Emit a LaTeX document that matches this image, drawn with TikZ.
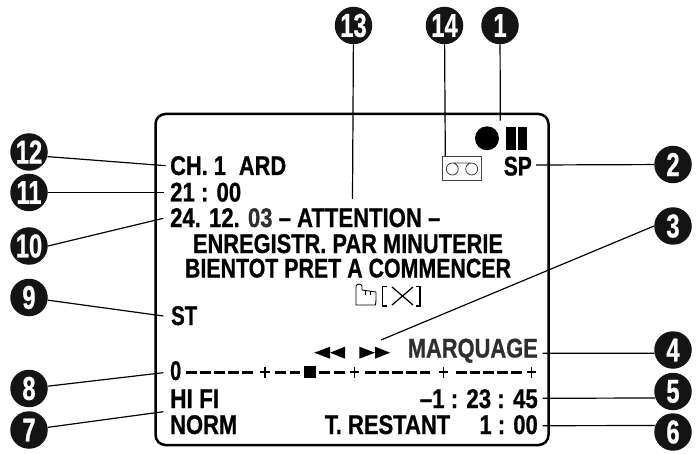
\documentclass[tikz,border=0pt]{standalone}
\usepackage{fontspec}
\setmainfont{Liberation Sans}[BoldFeatures={FakeBold=0.8}]
\newcommand\fitw[2]{\resizebox{#1pt}{\height}{#2}}
\newcommand\nm[1]{\scalebox{.72}[1]{#1}}
\definecolor{soft}{gray}{0.18}
\tikzset{
 x=1pt,y=-1pt,
 num/.style={circle,fill=black!92,text=white,minimum size=37.5pt,inner sep=0pt,font=\fontsize{33}{33}\bfseries\selectfont},
 lbl/.style={inner sep=0pt,font=\fontsize{27}{27}\bfseries\selectfont,anchor=base west},
 lbr/.style={lbl,anchor=base east},
 lbc/.style={lbl,anchor=base},
 ln/.style={line width=1.2pt},
 dashbar/.style={line width=3pt},
 plusmark/.style={line width=1.2pt},
}
\begin{document}
\begin{tikzpicture}
\useasboundingbox (0,0) rectangle (698,454);
\draw[line width=2.5pt,rounded corners=10pt] (155.5,114) rectangle (548.5,445);
% numbered
\node[num] (n1) at (500,25.5) {\nm{1}};
\node[num] (n2) at (673,164.5) {\nm{2}};
\node[num] (n3) at (673,226) {\nm{3}};
\node[num] (n4) at (673,350) {\nm{4}};
\node[num] (n5) at (673,391.5) {\nm{5}};
\node[num] (n6) at (673,432) {\nm{6}};
\node[num] (n7) at (29,430) {\nm{7}};
\node[num] (n8) at (29,388.5) {\nm{8}};
\node[num] (n9) at (29,297.5) {\nm{9}};
\node[num] (n10) at (29,246) {\nm{10}};
\node[num] (n11) at (29,192.5) {\nm{11}};
\node[num] (n12) at (29,152) {\nm{12}};
\node[num] (n13) at (353.5,25.5) {\nm{13}};
\node[num] (n14) at (444.5,25.5) {\nm{14}};
% texts
\node[lbl] (t12) at (170,175) {\fitw{116}{CH. 1\hspace{16pt}ARD}};
\node[lbl] (t11) at (170,201.5) {\fitw{71}{21 : 00}};
\node[lbl] (t10) at (170,227) {\fitw{270}{24. 12. \textcolor{soft}{03} -- ATTENTION --}};
\node[lbc] (tb) at (348,253) {\fitw{310}{ENREGISTR. PAR MINUTERIE}};
\node[lbc] (tc) at (348,277.5) {\fitw{326}{BIENTOT PRET A COMMENCER}};
\node[lbl] (t9) at (171,325) {\fitw{26}{ST}};
\node[lbr,text=soft] (t4) at (538,357.5) {\fitw{130}{MARQUAGE}};
\node[lbl] (t8) at (170,380) {\fitw{11}{0}};
\node[lbl] (t7a) at (170,408) {\fitw{49}{HI FI}};
\node[lbl] (t7) at (170,434) {\fitw{67}{NORM}};
\node[lbr] (t5) at (538,408) {\fitw{118}{--1 : 23 : 45}};
\node[lbr] (t6) at (538,434) {\fitw{213}{T. RESTANT\hspace{36pt}1 : 00}};
\node[lbr] (tsp) at (532,175.5) {\fitw{28}{SP}};
% connectors
\coordinate (c1) at (500.3,120.7);
\coordinate (c2) at (536,165);
\coordinate (c3) at (381,340);
\coordinate (c4) at (542.7,353.3);
\coordinate (c5) at (542.7,398.3);
\coordinate (c6) at (542.7,425.7);
\coordinate (c7) at (163.3,411.7);
\coordinate (c8) at (163.3,372.7);
\coordinate (c9) at (163.3,316);
\coordinate (c10) at (163.3,218.3);
\coordinate (c11) at (163.5,192.5);
\coordinate (c12) at (165.7,165.7);
\coordinate (c13) at (352.5,199);
\coordinate (c14) at (445.3,157);
\draw[ln] (n1) -- (c1);
\draw[ln] (n2) -- (c2);
\draw[ln] (n3.180) -- (c3);
\draw[ln] (n4.190) -- (c4);
\draw[ln] (n5.200) -- (c5);
\draw[ln] (n6.160) -- (c6);
\draw[ln] (n7.8) -- (c7);
\draw[ln] (n8.7) -- (c8);
\draw[ln] (n9.-8) -- (c9);
\draw[ln] (n10.0) -- (c10);
\draw[ln] (n11.0) -- (c11);
\draw[ln] (n12.-14) -- (c12);
\draw[ln] (n13) -- (c13);
\draw[ln] (n14) -- (c14);
% rec / pause
\fill (487,138.3) circle (12pt);
\fill (506,126.7) rectangle (515.7,150);
\fill (517.7,126.7) rectangle (527.3,150);
% cassette
\draw[line width=.8pt,black!75] (442.3,156.5) rectangle (481.7,180);
\draw[line width=.8pt,black!75] (452.3,169) circle (6pt) (471.7,169) circle (6pt) (452.3,163) -- (471.7,163);
% transport arrows
\fill (314.3,352.7) -- (330,346.7) -- (330,358.7) -- cycle;
\fill (330,352.7) -- (345,346.7) -- (345,358.7) -- cycle;
\fill (359.3,346.7) -- (375,352.7) -- (359.3,358.7) -- cycle;
\fill (375,346.7) -- (390,352.7) -- (375,358.7) -- cycle;
% scale
\foreach \s in {186,200,214,228,242,275,289.7,319.3,334,365,378.6,392,406,419.5,456,469.7,483.4,497,511}
  \draw[dashbar] (\s,372) -- ++(10.5,0);
\fill (304,366) rectangle (316,378);
\foreach \p in {265,354.3,443.3,531.7}
  \draw[plusmark] (\p-4.7,372) -- (\p+4.7,372) (\p,366.5) -- (\p,377.5);
% hand and X
\draw[line width=.9pt,line join=round] (356,286) -- (356,300) -- (356,305) -- (375.5,305) -- (376,300) -- (376,292) -- (362,290) -- (362,286) .. controls (361,283.5) and (357,283.5) .. (356,286);
\draw[line width=.7pt] (365,290.5) -- (365,295) (370,291) -- (370,295);
\draw[line width=1.6pt] (386.7,286.5) -- (382.5,286.5) -- (382.5,306) -- (386.7,306);
\draw[line width=1.6pt] (415.5,286.5) -- (419.7,286.5) -- (419.7,306) -- (415.5,306);
\draw[line width=1.3pt] (392,287) -- (413,305) (413,287) -- (392,305);
\end{tikzpicture}
\end{document}
